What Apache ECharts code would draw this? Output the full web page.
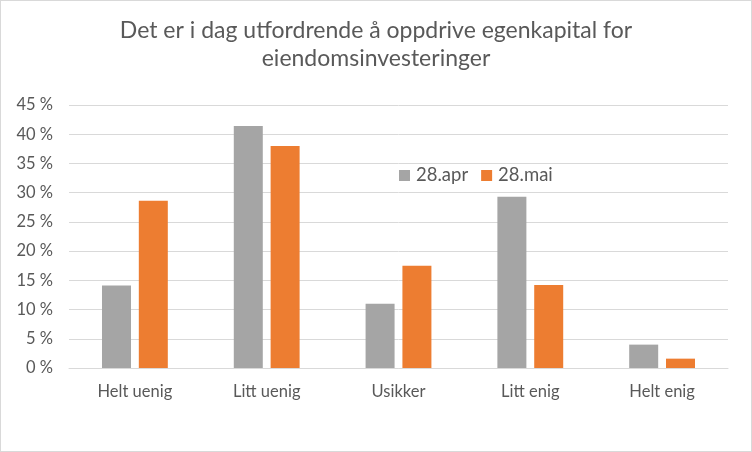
<!DOCTYPE html>
<html>
<head>
<meta charset="utf-8">
<script src="https://cdn.jsdelivr.net/npm/echarts@6/dist/echarts.min.js"></script>
<style>
html,body{margin:0;padding:0;background:#fff;}
#c{position:absolute;left:0;top:0;width:750px;height:450px;border:1px solid #d9d9d9;}
</style>
</head>
<body>
<div id="c"></div>
<script>
const categories = ['Helt uenig', 'Litt uenig', 'Usikker', 'Litt enig', 'Helt enig'];
const seriesApr = [14.1, 41.4, 11.0, 29.3, 4.0];
const seriesMai = [28.6, 38.0, 17.5, 14.2, 1.6];
const seriesNames = ['28.apr', '28.mai'];
const titleText = 'Det er i dag utfordrende å oppdrive egenkapital for\neiendomsinvesteringer';

const chart = echarts.init(document.getElementById('c'), null, {renderer: 'canvas'});
const font = 'Lato, "Open Sans", sans-serif';
chart.setOption({
  animation: false,
  textStyle: {fontFamily: font},
  title: {
    text: titleText,
    left: 'center',
    top: 11,
    textStyle: {fontFamily: font, fontSize: 23, fontWeight: 'normal', color: '#595959', lineHeight: 28}
  },
  legend: {
    data: seriesNames,
    left: 393,
    top: 160,
    itemWidth: 11,
    itemHeight: 11,
    itemGap: 13,
    icon: 'rect',
    textStyle: {fontFamily: font, fontSize: 18.5, color: '#595959', padding: [0,0,0,1]}
  },
  grid: {left: 68, right: 23, top: 104, bottom: 83, containLabel: false},
  xAxis: {
    type: 'category',
    data: categories,
    axisTick: {show: false},
    axisLine: {lineStyle: {color: '#d9d9d9', width: 1}},
    axisLabel: {fontFamily: font, fontSize: 16.5, color: '#595959', margin: 15}
  },
  yAxis: {
    type: 'value',
    min: 0,
    max: 45,
    interval: 5,
    axisLine: {show: false},
    axisTick: {show: false},
    splitLine: {lineStyle: {color: '#d9d9d9', width: 1}},
    axisLabel: {fontFamily: font, fontSize: 16.5, color: '#595959', margin: 16, formatter: v => v + ' %'}
  },
  series: [
    {name: seriesNames[0], type: 'bar', data: seriesApr, barWidth: '22%', barGap: '27%', itemStyle: {color: '#a5a5a5'}},
    {name: seriesNames[1], type: 'bar', data: seriesMai, barWidth: '22%', barGap: '27%', itemStyle: {color: '#ed7d31'}}
  ]
});
</script>
</body>
</html>
